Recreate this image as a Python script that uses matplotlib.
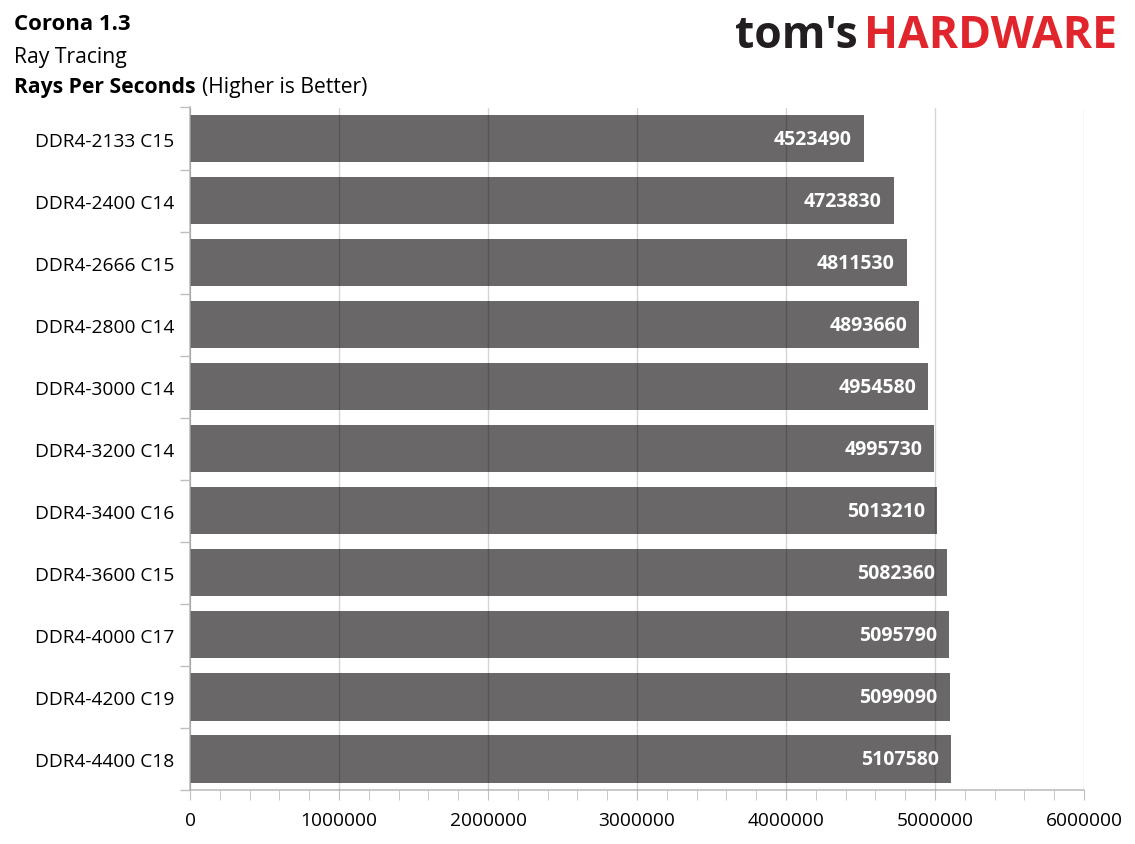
import matplotlib
matplotlib.use("Agg")
import matplotlib.pyplot as plt
import matplotlib.transforms as mtrans
from matplotlib.ticker import MultipleLocator, FixedLocator

categories = ["DDR4-2133 C15", "DDR4-2400 C14", "DDR4-2666 C15", "DDR4-2800 C14",
              "DDR4-3000 C14", "DDR4-3200 C14", "DDR4-3400 C16", "DDR4-3600 C15",
              "DDR4-4000 C17", "DDR4-4200 C19", "DDR4-4400 C18"]
values = [4523490, 4723830, 4811530, 4893660, 4954580, 4995730, 5013210,
          5082360, 5095790, 5099090, 5107580]
xticks = [0, 1000000, 2000000, 3000000, 4000000, 5000000, 6000000]

FONT = "Open Sans"
plt.rcParams['font.family'] = [FONT, 'DejaVu Sans']

fig = plt.figure(figsize=(11.35, 8.45), dpi=100)
ax = fig.add_axes([190/1135, 1-791/845, (1084-190)/1135, (791-108.5)/845])

n = len(categories)
ypos = list(range(n))
ax.barh(ypos, values, height=0.76, color="#696767", zorder=2)
ax.set_ylim(n - 0.5, -0.5)
ax.set_xlim(0, 6000000)

off = mtrans.offset_copy(ax.transData, fig=fig, x=-12, y=0, units="dots")
for y, v in zip(ypos, values):
    ax.text(v, y, str(v), transform=off, ha="right", va="center", color="white",
            fontsize=14, fontweight="bold", zorder=4)

ax.set_yticks(ypos)
ax.set_yticklabels(categories, fontsize=13.8)
ax.yaxis.set_minor_locator(FixedLocator([i - 0.5 for i in range(n + 1)]))
ax.tick_params(axis="y", which="major", length=0, pad=11.5)
ax.tick_params(axis="y", which="minor", length=7, color="#bfbfbf", width=1)

ax.set_xticks(xticks)
ax.set_xticklabels([str(t) for t in xticks], fontsize=13.8)
ax.xaxis.set_minor_locator(MultipleLocator(200000))
ax.tick_params(axis="x", which="major", length=7, color="#bfbfbf", pad=8)
ax.tick_params(axis="x", which="minor", length=7, color="#bfbfbf")

ax.grid(axis="x", which="major", color="black", alpha=0.17, linewidth=1, zorder=3)
ax.set_axisbelow(False)
for s in ["top", "right"]:
    ax.spines[s].set_visible(False)
for s in ["left", "bottom"]:
    ax.spines[s].set_color("#bfbfbf")
    ax.spines[s].set_linewidth(1.2)

fig.text(14/1135, 1-24/845, "Corona 1.3", fontsize=16, fontweight="bold", va="center", ha="left")
fig.text(14/1135, 1-57/845, "Ray Tracing", fontsize=15.2, va="center", ha="left")
t = fig.text(14/1135, 1-88/845, "Rays Per Seconds", fontsize=15.2, fontweight="bold", va="center", ha="left")
fig.canvas.draw()
bb = t.get_window_extent()
fig.text((bb.x1 + 7)/1135, 1-88/845, "(Higher is Better)", fontsize=15.2, va="center", ha="left")

lt = fig.text(735/1135, 1-36/845, "tom's", fontsize=32, fontweight="bold", color="#231f20",
              va="center", ha="left")
fig.canvas.draw()
lb = lt.get_window_extent()
fig.text((lb.x1 + 6)/1135, 1-36/845, "HARDWARE", fontsize=32, fontweight="bold",
         color="#e0262c", va="center", ha="left")

fig.savefig("out.png", dpi=100, facecolor="white")
